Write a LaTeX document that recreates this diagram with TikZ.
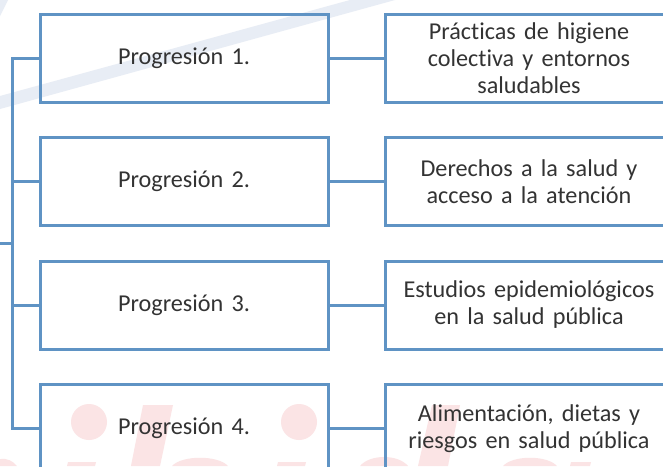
\documentclass[tikz,border=0pt]{standalone}
\usepackage{fontspec}
\setmainfont{Carlito}[Ligatures=NoCommon,WordSpace=1.5]
\definecolor{edgeblue}{HTML}{5F93C4}
\definecolor{inkgray}{HTML}{333333}
\definecolor{bandblue}{HTML}{E8EDF5}
\definecolor{markred}{HTML}{FBE4E5}
\tikzset{
  x=1pt,y=-1pt,
  leftbox/.style={draw=edgeblue,line width=3pt,minimum width=288pt,minimum height=88pt,inner sep=0pt,anchor=center,text=inkgray,font=\fontsize{24.2}{27}\selectfont,align=center},
  rightbox/.style={leftbox,minimum width=288pt},
  link/.style={draw=edgeblue,line width=3pt},
  wmark/.style={fill=markred,draw=none},
  wband/.style={fill=bandblue,draw=none}
}
\begin{document}
\begin{tikzpicture}
\useasboundingbox (0,0) rectangle (663,466);
\clip (0,0) rectangle (663,466);
\fill[white] (0,0) rectangle (663,466);
% watermark
\fill[wband] (0,96) -- (350,0) -- (395,0) -- (0,109) -- cycle;
\fill[wband] (0,0) -- (8,0) -- (0,16) -- cycle;
\fill[wmark] (89,422) circle (18);
\fill[wmark] (299,422) circle (18);
\fill[wmark] (143,405) -- (173,405) -- (160,466) -- (131,466) -- cycle;
\fill[wmark] (432,405) -- (460,405) -- (448,466) -- (418,466) -- cycle;
\fill[wmark] (68,462) -- (96,462) -- (95,466) -- (67,466) -- cycle;
\fill[wmark] (278,462) -- (306,462) -- (305,466) -- (277,466) -- cycle;
\fill[wmark] (571,462) -- (591,462) -- (590,466) -- (570,466) -- cycle;
\fill[wmark] (0,459) .. controls (7,458) and (13,461) .. (17,466) -- (0,466) -- cycle;
\fill[wmark] (172,466) .. controls (182,455) and (218,455) .. (228,466) -- cycle;
\fill[wmark] (360,466) .. controls (370,454) and (398,454) .. (408,466) -- cycle;
\fill[wmark] (503,466) .. controls (513,455) and (547,455) .. (557,466) -- cycle;
% boxes
\node[leftbox] (p1) at (184,58) {Progresión 1.};
\node[leftbox] (p2) at (184,181.5) {Progresión 2.};
\node[leftbox] (p3) at (184,305) {Progresión 3.};
\node[leftbox] (p4) at (184,428.5) {Progresión 4.};
\node[rightbox] (t1) at (529,58) {Prácticas de higiene\\colectiva y entornos\\saludables};
\node[rightbox] (t2) at (529,181.5) {Derechos a la salud y\\acceso a la atención};
\node[rightbox] (t3) at (529,305) {Estudios epidemiológicos\\en la salud pública};
\node[rightbox] (t4) at (529,428.5) {Alimentación, dietas y\\riesgos en salud pública};
% connectors
\coordinate (root) at (0,243);
\coordinate (trunk) at (12.5,243);
\draw[link] (root) -- (trunk);
\draw[link,line cap=rect] (p1.west) -- (p1.west -| trunk) -- (p4.west -| trunk) -- (p4.west);
\draw[link] (p2.west -| trunk) -- (p2.west);
\draw[link] (p3.west -| trunk) -- (p3.west);
\foreach \i in {1,2,3,4}{\draw[link] (p\i.east) -- (t\i.west);}
\end{tikzpicture}
\end{document}
